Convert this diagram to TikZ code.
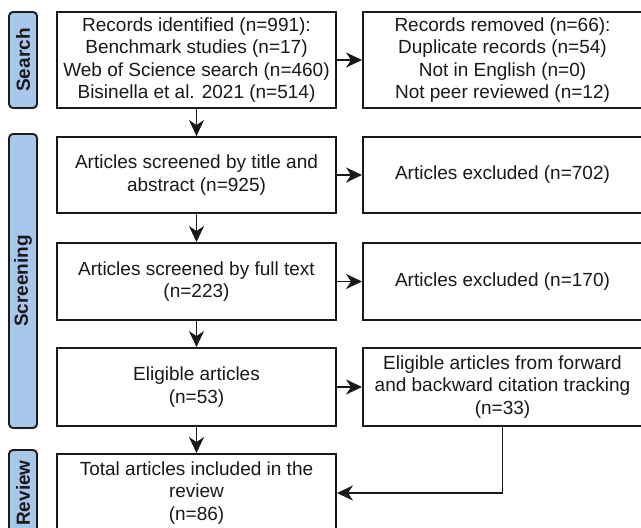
\documentclass[tikz,border=0pt]{standalone}
\usepackage{fontspec}
\setmainfont{Liberation Sans}
\usetikzlibrary{arrows.meta}
\definecolor{lblfill}{HTML}{A9C6EB}
\definecolor{lbldraw}{HTML}{1C1C1C}
\tikzset{
  box/.style={draw=black!90, line width=1.9pt, fill=white, align=center, inner sep=0pt,
    font=\fontsize{19}{22.5}\selectfont, text=black!90},
  lbl/.style={draw=lbldraw, fill=lblfill, line width=1.9pt, rounded corners=4pt,
    minimum width=28pt, inner sep=0pt},
  lbltext/.style={rotate=90, font=\fontsize{19}{22}\selectfont\bfseries, text=black!90},
  conn/.style={line width=1.9pt, draw=black!90, -{Stealth[length=16pt,width=15pt,inset=5pt]}}
}
\begin{document}
\begin{tikzpicture}
\useasboundingbox (0pt,0pt) rectangle (641pt,-528pt);
% phase labels
\node[lbl, minimum height=96pt] (search) at (23pt,-60pt) {};
\node[lbltext] (searcht) at (search.center) {Search};
\node[lbl, minimum height=294pt] (screen) at (23pt,-281pt) {};
\node[lbltext] (screent) at (screen.center) {Screening};
\node[lbl, minimum height=86pt] (review) at (23pt,-493pt) {};
\node[lbltext] (reviewt) at (review.center) {Review};
% left column
\node[box, minimum width=279pt, minimum height=96pt] (ident) at (196.5pt,-60pt)
  {Records identified (n=991):\\Benchmark studies (n=17)\\Web of Science search (n=460)\\Bisinella et al. 2021 (n=514)};
\node[box, minimum width=279pt, minimum height=76pt] (scr1) at (196.5pt,-175pt)
  {Articles screened by title and\\abstract (n=925)};
\node[box, minimum width=279pt, minimum height=77pt] (scr2) at (196.5pt,-281.5pt)
  {Articles screened by full text\\(n=223)};
\node[box, minimum width=279pt, minimum height=78pt] (elig) at (196.5pt,-387pt)
  {Eligible articles\\(n=53)};
\node[box, minimum width=279pt, minimum height=78pt] (total) at (196.5pt,-493pt)
  {Total articles included in the\\review\\(n=86)};
% right column
\node[box, minimum width=279pt, minimum height=96pt] (removed) at (502.5pt,-60pt)
  {Records removed (n=66):\\Duplicate records (n=54)\\Not in English (n=0)\\Not peer reviewed (n=12)};
\node[box, minimum width=279pt, minimum height=76pt] (exc1) at (502.5pt,-175pt)
  {Articles excluded (n=702)};
\node[box, minimum width=279pt, minimum height=77pt] (exc2) at (502.5pt,-281.5pt)
  {Articles excluded (n=170)};
\node[box, minimum width=279pt, minimum height=78pt] (fwd) at (502.5pt,-387pt)
  {Eligible articles from forward\\and backward citation tracking\\(n=33)};
% connectors
\draw[conn] (ident) -- (scr1);
\draw[conn] (scr1) -- (scr2);
\draw[conn] (scr2) -- (elig);
\draw[conn] (elig) -- (total);
\draw[conn] (ident) -- (removed);
\draw[conn] (scr1) -- (exc1);
\draw[conn] (scr2) -- (exc2);
\draw[conn] (elig) -- (fwd);
\draw[conn] (fwd.south) |- (total.east);
\end{tikzpicture}
\end{document}
